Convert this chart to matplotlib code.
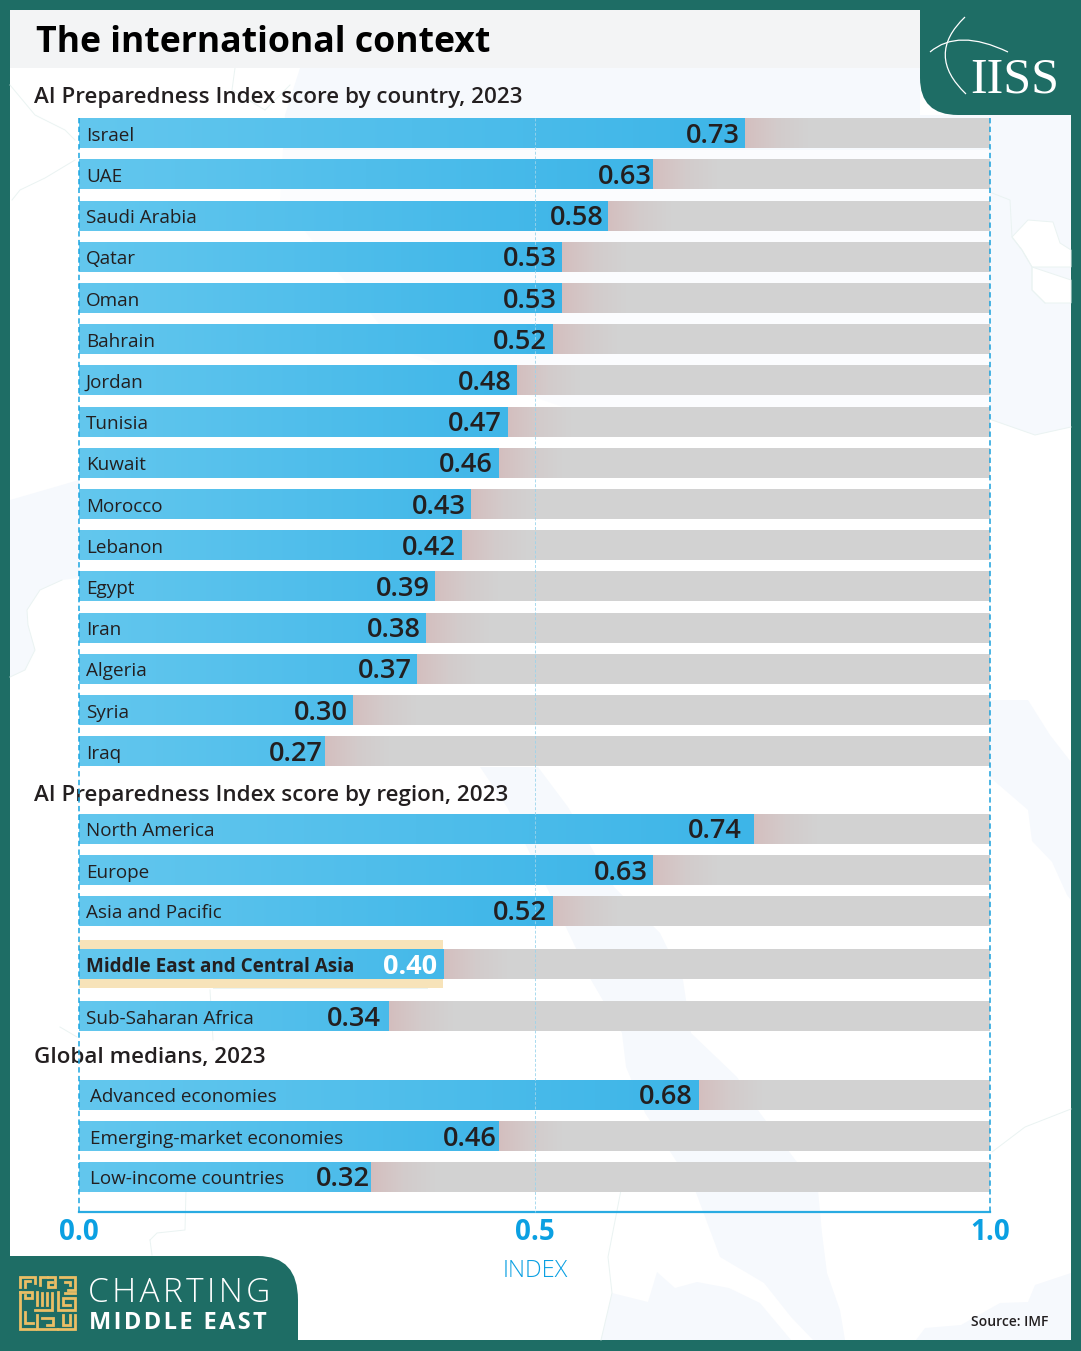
"""The international context: AI Preparedness Index bars (IISS chart recreation)."""

import matplotlib

matplotlib.use("Agg")
import matplotlib.pyplot as plt
import numpy as np
from matplotlib.colors import LinearSegmentedColormap
from matplotlib.patches import PathPatch, Polygon, Rectangle
from matplotlib.path import Path as MPath

COUNTRIES = ["Israel", "UAE", "Saudi Arabia", "Qatar", "Oman", "Bahrain", "Jordan", "Tunisia",
             "Kuwait", "Morocco", "Lebanon", "Egypt", "Iran", "Algeria", "Syria", "Iraq"]
COUNTRY_VALUES = [0.73, 0.63, 0.58, 0.53, 0.53, 0.52, 0.48, 0.47,
                  0.46, 0.43, 0.42, 0.39, 0.38, 0.37, 0.30, 0.27]
COUNTRY_GAPS = [4, 1, 4, 5, 5, 6, 5, 5, 5, 5, 6, 4, 4, 4, 4, 2]
REGIONS = ["North America", "Europe", "Asia and Pacific", "Middle East and Central Asia", "Sub-Saharan Africa"]
REGION_VALUES = [0.74, 0.63, 0.52, 0.40, 0.34]
REGION_GAPS = [11, 5, 6, 6, 8]
MEDIANS = ["Advanced economies", "Emerging-market economies", "Low-income countries"]
MEDIAN_VALUES = [0.68, 0.46, 0.32]
MEDIAN_GAPS = [6, 1, 1]
XTICKS = [0.0, 0.5, 1.0]
HIGHLIGHT = "Middle East and Central Asia"

TEAL = "#1E6D65"
BLUE = "#29ABE2"
TICK_BLUE = "#0BA0E2"
INK = "#231F20"
GOLD = "#EBBE65"
SEA = "#F6F9FD"
COAST = "#EAF3F2"
W, H = 1081, 1351
HAIR = "\u200a"

plt.rcParams["font.family"] = ["Open Sans", "DejaVu Sans"]

blues = LinearSegmentedColormap.from_list("bar", ["#63C7EE", "#3DB5E8"])
fade = LinearSegmentedColormap.from_list("fade", ["#D4BEBE", "#D3CBCB", "#D2D2D2"])
ramp = np.linspace(0, 1, 256).reshape(1, -1)

# backdrop map, image pixels
SEAS = [
    [(300, 68), (920, 68), (920, 115), (1071, 115), (1071, 427), (1035, 435), (992, 420), (600, 420),
     (400, 350), (280, 200), (285, 115)],
    [(10, 500), (79, 480), (79, 578), (62, 580), (40, 590), (27, 610), (28, 625), (35, 650), (25, 670), (10, 677)],
    [(990, 700), (1028, 700), (1050, 735), (1071, 762), (1071, 900), (1067, 895), (1052, 862), (1032, 841),
     (1028, 810), (992, 779), (990, 779)],
    [(480, 767), (507, 807), (553, 900), (591, 980), (622, 1033), (626, 1067), (645, 1113), (695, 1190),
     (720, 1257), (764, 1283), (791, 1317), (813, 1340), (845, 1340), (840, 1310), (827, 1273), (822, 1233),
     (818, 1190), (760, 1113), (737, 1077), (691, 1033), (683, 980), (660, 933), (614, 887), (568, 807), (538, 767)],
    [(601, 1340), (612, 1293), (648, 1302), (657, 1272), (675, 1288), (697, 1282), (729, 1288), (760, 1303), (791, 1340)],
    [(916, 1340), (925, 1328), (961, 1325), (1000, 1303), (1028, 1302), (1035, 1285), (1071, 1273), (1071, 1340)],
]
LANDS = [
    [(1012, 237), (1028, 220), (1053, 222), (1060, 243), (1071, 250), (1071, 267), (1032, 267), (1022, 250)],
    [(1032, 267), (1071, 280), (1071, 303), (1045, 303), (1032, 290)],
]
COASTS = [
    [(10, 85), (35, 115), (65, 130), (75, 140)],
    [(75, 160), (45, 178), (20, 190), (12, 200)],
    [(235, 68), (232, 90), (265, 110), (290, 85)],
    [(992, 193), (1010, 200), (1012, 237), (1022, 250), (1032, 267), (1032, 290), (1045, 303)],
    [(992, 420), (1035, 435), (1071, 427)],
    [(62, 580), (40, 590), (27, 610), (28, 625), (35, 650), (25, 670), (10, 677)],
    [(992, 1152), (1025, 1127), (1071, 1109)],
    [(150, 1240), (152, 1255)],
    [(186, 1190), (185, 1230), (157, 1233), (150, 1240)],
    [(621, 1190), (608, 1257), (612, 1293), (601, 1340)],
    [(60, 1027), (77, 1037)],
    [(213, 988), (427, 988)],
    [(210, 990), (213, 1040)],
]

# square kufic mark, in 3x-crop pixels from its corner
KUFIC = [
    [(14, 50), (14, 20), (60, 20), (60, 40)],
    [(30, 50), (30, 33), (45, 33)],
    [(75, 45), (75, 20), (95, 20)],
    [(100, 20), (120, 20), (120, 50), (100, 50), (100, 35), (112, 35)],
    [(135, 20), (180, 20), (180, 60), (160, 60)],
    [(150, 35), (165, 35), (165, 45)],
    [(14, 65), (50, 65), (50, 85), (30, 85), (30, 75)],
    [(14, 65), (14, 178), (60, 178)],
    [(65, 65), (65, 105)],
    [(80, 70), (80, 105)],
    [(95, 70), (95, 105)],
    [(110, 70), (110, 120), (60, 120)],
    [(130, 65), (130, 120), (180, 120), (180, 85), (145, 85), (145, 105), (165, 105)],
    [(150, 70), (180, 70)],
    [(30, 125), (30, 160), (55, 160)],
    [(65, 135), (65, 178), (125, 178)],
    [(80, 145), (115, 145), (115, 165), (95, 165)],
    [(130, 178), (180, 178), (180, 135)],
    [(145, 135), (145, 165), (165, 165), (165, 135)],
]


def _page(fig):
    """Background axes in pixel coordinates: panel, map, header, logos."""
    bg = fig.add_axes([0, 0, 1, 1], zorder=0)
    bg.set_xlim(0, W)
    bg.set_ylim(H, 0)
    bg.axis("off")
    bg.add_patch(Rectangle((10, 10), 1061, 1330, fc="white", ec="none", zorder=0.1))

    for poly in SEAS:
        bg.add_patch(Polygon(poly, closed=True, fc=SEA, ec="none", zorder=0.5))
    for poly in LANDS:
        bg.add_patch(Polygon(poly, closed=True, fc="white", ec=COAST, lw=0.7, zorder=0.6))
    for c in COASTS:
        xs, ys = zip(*c)
        bg.plot(xs, ys, color=COAST, lw=0.7, zorder=0.7)
    # the map washes out behind the country rows
    bg.add_patch(Rectangle((79, 150), 911, 616, fc="white", alpha=0.65, ec="none", zorder=0.8))
    bg.add_patch(Rectangle((10, 10), 910, 58, fc="#F3F4F5", ec="none", zorder=1))

    # top-right logo block
    block = MPath([(920, 10), (1071, 10), (1071, 115), (958, 115), (920, 115), (920, 78), (920, 10)],
                  [MPath.MOVETO, MPath.LINETO, MPath.LINETO, MPath.LINETO, MPath.CURVE3, MPath.CURVE3, MPath.LINETO])
    bg.add_patch(PathPatch(block, fc=TEAL, ec="none", zorder=2))
    bg.add_patch(PathPatch(MPath([(930, 52), (958, 28), (1008, 52)],
                                 [MPath.MOVETO, MPath.CURVE3, MPath.CURVE3]),
                           fc="none", ec="white", lw=0.9, zorder=3))
    bg.add_patch(PathPatch(MPath([(965, 17), (925, 55), (966, 94)],
                                 [MPath.MOVETO, MPath.CURVE3, MPath.CURVE3]),
                           fc="none", ec="white", lw=0.9, zorder=3))
    bg.text(970, 80, "IISS", family="Liberation Serif", fontsize=36, color="white",
            ha="left", va="center", zorder=3)

    # bottom-left badge
    badge = MPath([(10, 1256), (258, 1256), (298, 1256), (298, 1300), (298, 1340), (10, 1340), (10, 1256)],
                  [MPath.MOVETO, MPath.LINETO, MPath.CURVE3, MPath.CURVE3, MPath.LINETO, MPath.LINETO, MPath.CLOSEPOLY])
    bg.add_patch(PathPatch(badge, fc=TEAL, ec="none", zorder=2))
    bg.text(88, 1293, HAIR.join("CHARTING"), fontsize=24, color="white", va="center", zorder=3,
            fontweight="light")
    bg.text(89, 1323, HAIR.join("MIDDLE EAST"), fontsize=17, color="white", va="center", zorder=3,
            fontweight="bold")

    for seg in KUFIC:
        xs = [15 + p[0] / 3 for p in seg]
        ys = [1270 + p[1] / 3 for p in seg]
        bg.plot(xs, ys, color=GOLD, lw=2.0, zorder=3, solid_capstyle="projecting", solid_joinstyle="miter")

    bg.text(36, 42.5, "The international context", fontsize=25.7, fontweight="bold", color="black",
            va="center", zorder=3)
    for y, txt in ((98, "AI Preparedness Index score by country, 2023"),
                   (795, "AI Preparedness Index score by region, 2023"),
                   (1058, "Global medians, 2023")):
        bg.text(34, y, txt, fontsize=16.1, fontweight="semibold", color=INK, va="center", zorder=3)
    bg.text(535, 1271, "INDEX", fontsize=17, color=TICK_BLUE, ha="center", va="center",
            fontweight="light", zorder=3)
    bg.text(1048, 1322, "Source: IMF", fontsize=10, color=INK, ha="right", va="center",
            fontweight="semibold", zorder=3)


def _draw_bar(ax, y, name, value, gap, label_px=7):
    hl = name == HIGHLIGHT
    ax.barh(y, 1.0, height=30, color="#D2D2D2", zorder=2)
    ax.imshow(ramp, extent=(value, value + 0.07, y + 15, y - 15), cmap=fade, aspect="auto", zorder=2.1)
    if hl:
        ax.barh(y, value, height=48, color="#F7E3B9", zorder=2.2)
    bar = ax.barh(y, value, height=30, color="#3DB5E8", zorder=2.3)[0]
    im = ax.imshow(ramp, extent=(0, max(value, 0.5), y + 15, y - 15), cmap=blues, aspect="auto", zorder=2.4)
    im.set_clip_path(bar)
    ax.annotate(name, (0, y), xytext=(label_px, -2.5), textcoords="offset pixels", fontsize=13.6, color=INK,
                va="center", ha="left", zorder=5, fontweight="bold" if hl else "normal")
    ax.annotate(f"{value:.2f}", (value, y), xytext=(-gap, -2.5), textcoords="offset pixels", fontsize=19.5,
                fontweight="bold" if hl else "semibold", color="white" if hl else INK,
                va="center", ha="right", zorder=5)


def main():
    fig = plt.figure(figsize=(W / 100, H / 100), dpi=100, facecolor=TEAL)
    _page(fig)

    # chart axes: x is the index, y stays in image rows to hold the uneven gaps
    top, bottom, left, right = 115, 1212, 79, 990
    ax = fig.add_axes([left / W, 1 - bottom / H, (right - left) / W, (bottom - top) / H], zorder=1)
    ax.patch.set_alpha(0)

    for i, (name, value, gap) in enumerate(zip(COUNTRIES, COUNTRY_VALUES, COUNTRY_GAPS)):
        _draw_bar(ax, 133.2 + i * 41.2, name, value, gap)
    for y, name, value, gap in zip((829, 870, 911, 964, 1016), REGIONS, REGION_VALUES, REGION_GAPS):
        _draw_bar(ax, y, name, value, gap)
    for y, name, value, gap in zip((1095, 1136, 1177), MEDIANS, MEDIAN_VALUES, MEDIAN_GAPS):
        _draw_bar(ax, y, name, value, gap, label_px=11)

    ax.set_xlim(0, 1)
    ax.set_ylim(bottom, top)
    for x, col, lw, z in ((0.0, "#1BA5E0", 1.1, 4), (0.5, "#9AD4EC", 0.6, 4), (1.0, "#1BA1DC", 1.1, 4)):
        ax.plot([x, x], [118, bottom], color=col, lw=lw, ls=(0, (3.5, 2.2)), zorder=z, clip_on=False)

    for side in ("top", "left", "right"):
        ax.spines[side].set_visible(False)
    ax.spines["bottom"].set_color(BLUE)
    ax.spines["bottom"].set_linewidth(1.6)
    ax.set_yticks([])
    ax.set_xticks(XTICKS)
    ax.set_xticklabels([f"{t:.1f}" for t in XTICKS], fontsize=20, fontweight="bold", color=TICK_BLUE)
    ax.tick_params(axis="x", length=0, pad=4)

    fig.savefig("out.png", dpi=100)


if __name__ == "__main__":
    main()
